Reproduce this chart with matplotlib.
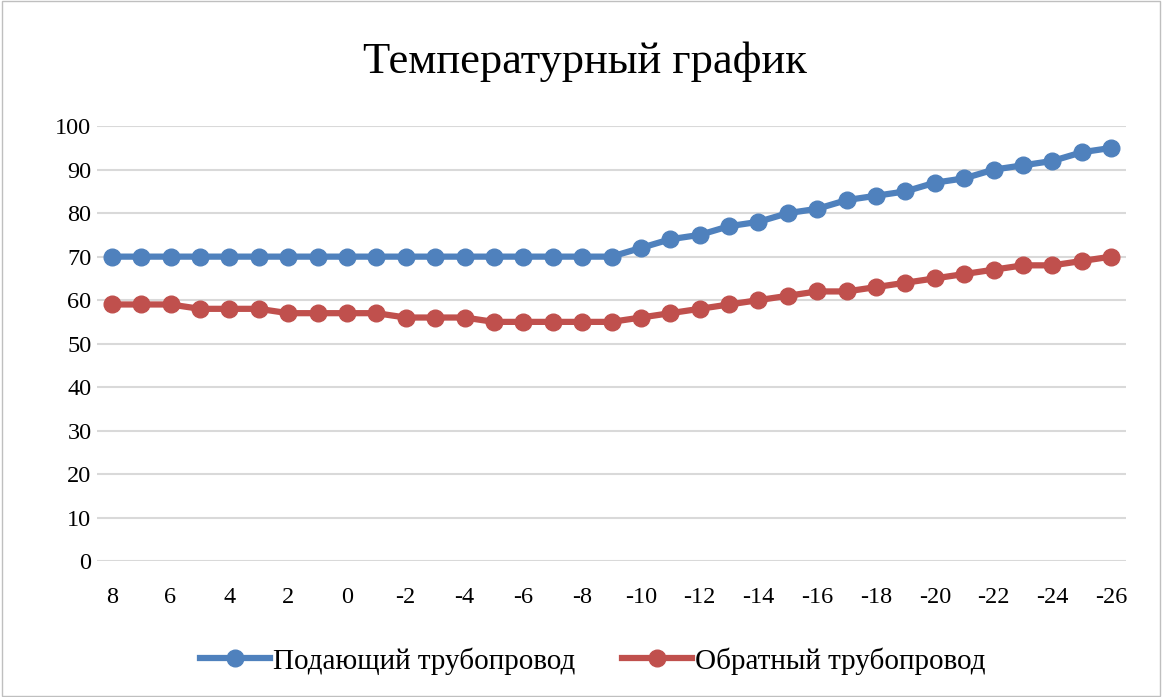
import matplotlib.pyplot as plt
from matplotlib.patches import Rectangle

# температура наружного воздуха
t_nar = [8, 7, 6, 5, 4, 3, 2, 1, 0, -1, -2, -3, -4, -5, -6, -7, -8, -9, -10,
         -11, -12, -13, -14, -15, -16, -17, -18, -19, -20, -21, -22, -23, -24, -25, -26]
podacha = [70, 70, 70, 70, 70, 70, 70, 70, 70, 70, 70, 70, 70, 70, 70, 70, 70, 70, 72,
           74, 75, 77, 78, 80, 81, 83, 84, 85, 87, 88, 90, 91, 92, 94, 95]
obratka = [59, 59, 59, 58, 58, 58, 57, 57, 57, 57, 56, 56, 56, 55, 55, 55, 55, 55, 56,
           57, 58, 59, 60, 61, 62, 62, 63, 64, 65, 66, 67, 68, 68, 69, 70]

plt.rcParams['font.family'] = ['Liberation Serif', 'DejaVu Serif']

fig = plt.figure(figsize=(11.62, 6.97), dpi=100)
fig.patches.append(Rectangle((0.002, 0.002), 0.996, 0.996, transform=fig.transFigure,
                             fill=False, edgecolor='#BFBFBF', linewidth=1))
ax = fig.add_axes([0.0835, 0.195, 0.8855, 0.624])

x = list(range(len(t_nar)))
ax.plot(x, podacha, color='#4F81BD', linewidth=4.5, marker='o', markersize=12,
        label='Подающий трубопровод')
ax.plot(x, obratka, color='#C0504D', linewidth=4.5, marker='o', markersize=12,
        label='Обратный трубопровод')

ax.set_xlim(-0.5, len(t_nar) - 0.5)
ax.set_ylim(0, 100)
ax.set_yticks(range(0, 101, 10))
ax.set_xticks(x[::2])
ax.set_xticklabels([str(t) for t in t_nar[::2]])
ax.tick_params(axis='both', length=0, labelsize=17.5, colors='black')
ax.tick_params(axis='x', pad=19)
ax.tick_params(axis='y', pad=4)
ax.grid(axis='y', color='#D9D9D9', linewidth=1.5)
ax.set_axisbelow(True)
for s in ax.spines.values():
    s.set_visible(False)

fig.text(0.503, 0.911, 'Температурный график', ha='center', va='center', fontsize=32)
fig.legend(loc='center', bbox_to_anchor=(0.51, 0.052), ncol=2, frameon=False,
           fontsize=21, handlelength=2.4, handletextpad=0.1, columnspacing=1.6)

fig.savefig('out.png', dpi=100)
